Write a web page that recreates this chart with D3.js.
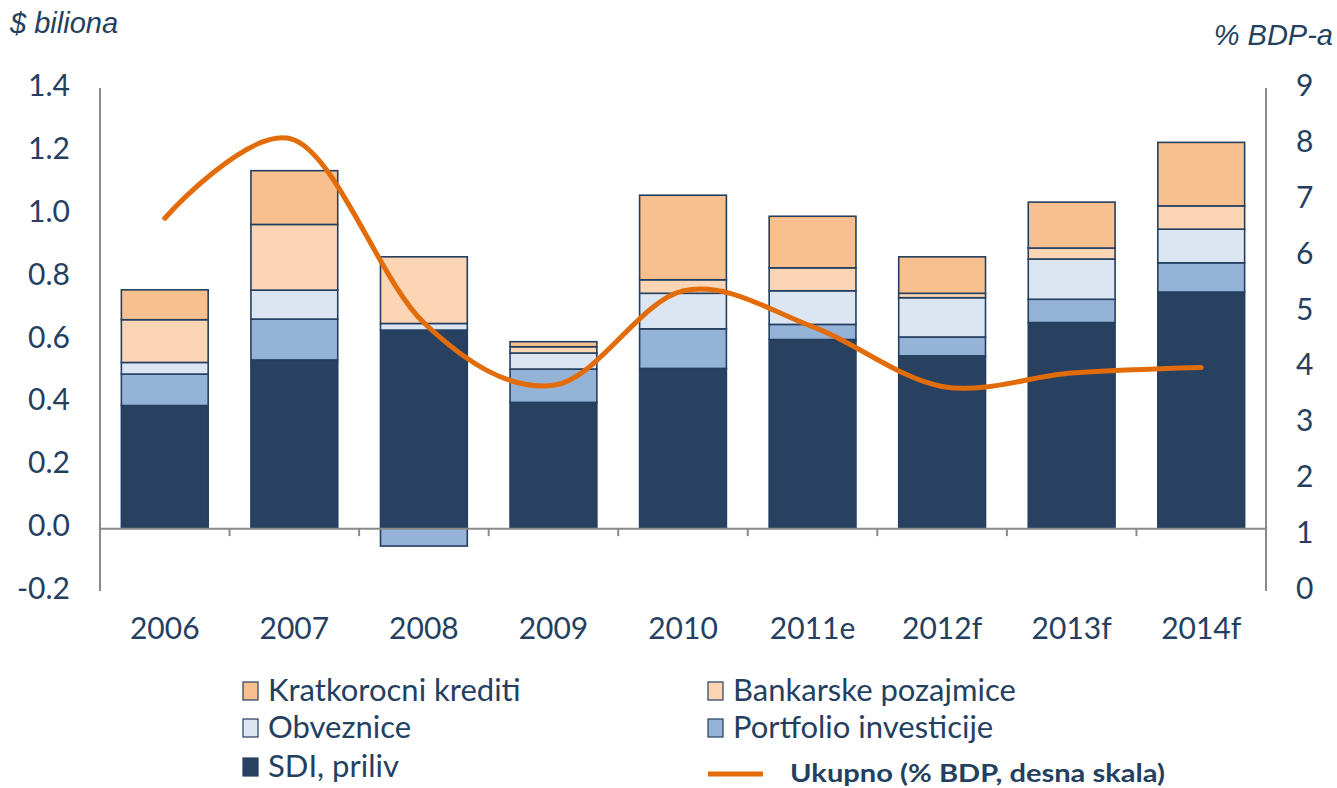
<!DOCTYPE html>
<html>
<head>
<meta charset="utf-8">
<script src="https://cdn.jsdelivr.net/npm/d3@7"></script>
<style>
  body { margin: 0; background: #fff; }
  text { fill: #243f60; }
</style>
</head>
<body>
<div id="container"></div>
<script>
// categories and series ($ billion, stacked)
var years = ["2006", "2007", "2008", "2009", "2010", "2011e", "2012f", "2013f", "2014f"];
var sdi = [0.39, 0.535, 0.63, 0.40, 0.508, 0.60, 0.548, 0.654, 0.751];
var portfolio = [0.10, 0.13, -0.057, 0.106, 0.126, 0.048, 0.06, 0.074, 0.093];
var obveznice = [0.037, 0.092, 0.021, 0.051, 0.113, 0.107, 0.125, 0.128, 0.107];
var bankarske = [0.136, 0.209, 0.212, 0.02, 0.043, 0.073, 0.014, 0.035, 0.074];
var kratkorocni = [0.095, 0.171, 0, 0.016, 0.269, 0.164, 0.116, 0.146, 0.202];
// total, % of GDP (right scale)
var ukupno = [6.67, 8.07, 4.8, 3.68, 5.37, 4.73, 3.66, 3.9, 4.0];

var leftTicks = [-0.2, 0, 0.2, 0.4, 0.6, 0.8, 1.0, 1.2, 1.4];
var rightTicks = [0, 1, 2, 3, 4, 5, 6, 7, 8, 9];

var keys = ["sdi", "portfolio", "obveznice", "bankarske", "kratkorocni"];
var labels = {
  kratkorocni: "Kratkorocni krediti",
  bankarske: "Bankarske pozajmice",
  obveznice: "Obveznice",
  portfolio: "Portfolio investicije",
  sdi: "SDI, priliv"
};
var colors = {
  sdi: "#284161",
  portfolio: "#95b3d7",
  obveznice: "#dce6f2",
  bankarske: "#fcd5b5",
  kratkorocni: "#f9c08f"
};

var rows = years.map(function(y, i) {
  return { year: y, sdi: sdi[i], portfolio: portfolio[i], obveznice: obveznice[i],
           bankarske: bankarske[i], kratkorocni: kratkorocni[i] };
});

var width = 1337, height = 788;
var plotL = 100, plotR = 1266, plotT = 88, plotB = 591;

var svg = d3.select("#container").append("svg")
    .attr("width", width)
    .attr("height", height);

var x = d3.scaleBand().domain(years).range([plotL, plotR]).paddingInner(0.33).paddingOuter(0.165);
var xb = d3.scaleBand().domain(years).range([plotL, plotR]);
var yL = d3.scaleLinear().domain([-0.2, 1.4]).range([plotB, plotT]);
var yR = d3.scaleLinear().domain([0, 9]).range([plotB, plotT]);

var series = d3.stack().keys(keys).offset(d3.stackOffsetDiverging)(rows);

svg.append("g").selectAll("g")
  .data(series)
  .enter().append("g")
    .attr("fill", function(d) { return colors[d.key]; })
  .selectAll("rect")
  .data(function(d) { return d.filter(function(p) { return p[1] - p[0] !== 0; }); })
  .enter().append("rect")
    .attr("x", function(d) { return x(d.data.year); })
    .attr("width", x.bandwidth())
    .attr("y", function(d) { return yL(d[1]); })
    .attr("height", function(d) { return yL(d[0]) - yL(d[1]); })
    .attr("stroke", "#243f60")
    .attr("stroke-width", 1.6);

// axes
var axisColor = "#8a8a8a";
svg.append("line").attr("x1", plotL).attr("x2", plotL).attr("y1", plotT).attr("y2", plotB)
  .attr("stroke", axisColor).attr("stroke-width", 2);
svg.append("line").attr("x1", plotR).attr("x2", plotR).attr("y1", plotT).attr("y2", plotB)
  .attr("stroke", axisColor).attr("stroke-width", 2);

var xAxis = svg.append("g")
    .attr("transform", "translate(0," + yL(0) + ")")
    .call(d3.axisBottom(xb).tickSize(0).tickFormat(""));
xAxis.select(".domain").attr("stroke", axisColor).attr("stroke-width", 2);
xAxis.selectAll(".tick").remove();

svg.append("g").selectAll("line")
  .data(years.slice(1))
  .enter().append("line")
    .attr("x1", function(d) { return xb(d); })
    .attr("x2", function(d) { return xb(d); })
    .attr("y1", yL(0))
    .attr("y2", yL(0) + 8)
    .attr("stroke", axisColor)
    .attr("stroke-width", 2);

svg.append("g").selectAll("text")
  .data(years)
  .enter().append("text")
    .attr("x", function(d) { return xb(d) + xb.bandwidth() / 2; })
    .attr("y", 639)
    .attr("text-anchor", "middle")
    .attr("font-family", "Lato, sans-serif")
    .attr("font-size", 30)
    .text(function(d) { return d; });

svg.append("g").selectAll("text")
  .data(leftTicks)
  .enter().append("text")
    .attr("x", 70)
    .attr("y", function(d) { return yL(d) + 8; })
    .attr("text-anchor", "end")
    .attr("font-family", "Lato, sans-serif")
    .attr("font-size", 30)
    .text(function(d) { return d.toFixed(1); });

svg.append("g").selectAll("text")
  .data(rightTicks)
  .enter().append("text")
    .attr("x", 1296)
    .attr("y", function(d) { return yR(d) + 8; })
    .attr("font-family", "Lato, sans-serif")
    .attr("font-size", 30)
    .text(function(d) { return d; });

svg.append("text")
  .attr("x", 10).attr("y", 33)
  .attr("font-family", "Liberation Sans, Arial, sans-serif")
  .attr("font-style", "italic")
  .attr("font-size", 29)
  .text("$ biliona");

svg.append("text")
  .attr("x", 1333).attr("y", 45)
  .attr("text-anchor", "end")
  .attr("font-family", "Liberation Sans, Arial, sans-serif")
  .attr("font-style", "italic")
  .attr("font-size", 29)
  .text("% BDP-a");

// line on right scale
var line = d3.line()
    .x(function(d, i) { return xb(years[i]) + xb.bandwidth() / 2; })
    .y(function(d) { return yR(d); })
    .curve(d3.curveCatmullRom.alpha(0));

svg.append("path")
  .datum(ukupno)
  .attr("d", line)
  .attr("fill", "none")
  .attr("stroke", "#e36c0a")
  .attr("stroke-width", 5)
  .attr("stroke-linecap", "round");

// legend
var legendItems = [
  { key: "kratkorocni", x: 243, y: 691 },
  { key: "bankarske", x: 708, y: 691 },
  { key: "obveznice", x: 243, y: 728 },
  { key: "portfolio", x: 708, y: 728 },
  { key: "sdi", x: 243, y: 767 }
];
var lg = svg.append("g").selectAll("g")
  .data(legendItems)
  .enter().append("g")
    .attr("transform", function(d) { return "translate(" + d.x + "," + d.y + ")"; });
lg.append("rect")
  .attr("x", 0).attr("y", -9)
  .attr("width", 15).attr("height", 18)
  .attr("fill", function(d) { return colors[d.key]; })
  .attr("stroke", "#243f60")
  .attr("stroke-width", 1.2);
lg.append("text")
  .attr("x", 25).attr("y", 10)
  .attr("font-family", "Lato, sans-serif")
  .attr("font-size", 31)
  .text(function(d) { return labels[d.key]; });

svg.append("line")
  .attr("x1", 708).attr("x2", 763)
  .attr("y1", 774).attr("y2", 774)
  .attr("stroke", "#e36c0a")
  .attr("stroke-width", 5);
svg.append("text")
  .attr("x", 790).attr("y", 782)
  .attr("font-family", "Lato, sans-serif")
  .attr("font-weight", "bold")
  .attr("font-size", 25)
  .attr("textLength", 375)
  .attr("lengthAdjust", "spacingAndGlyphs")
  .text("Ukupno (% BDP, desna skala)");
</script>
</body>
</html>
